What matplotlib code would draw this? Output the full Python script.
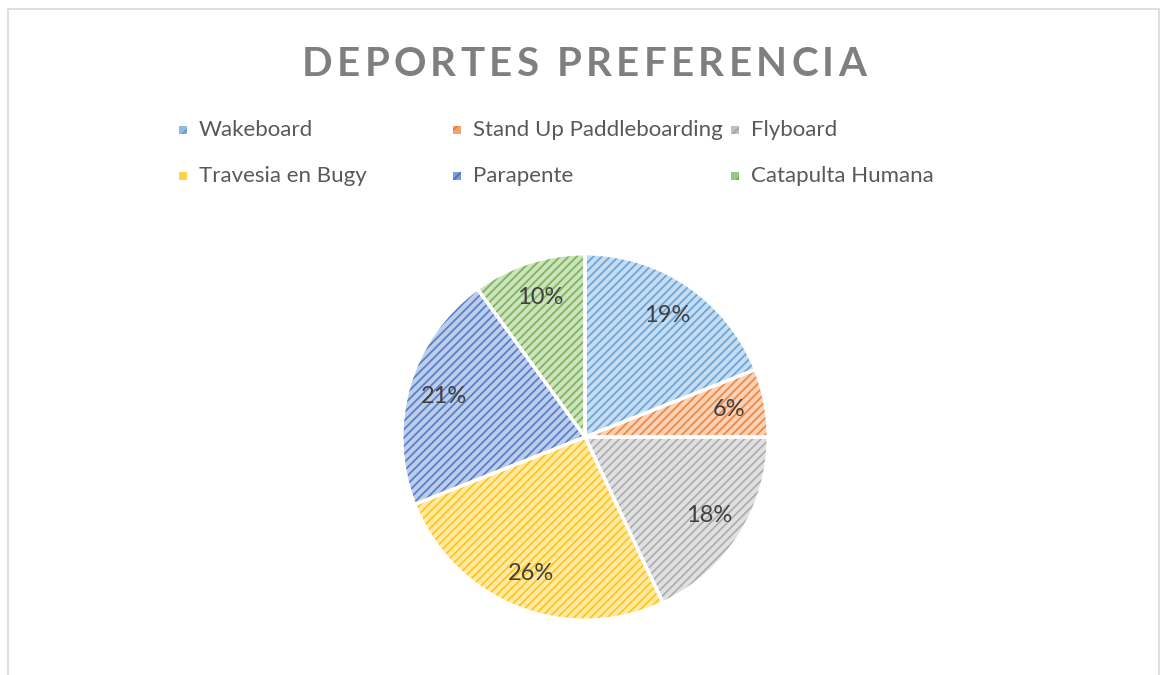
import matplotlib
matplotlib.use("Agg")
import matplotlib.pyplot as plt
import matplotlib.colors as mcolors
from matplotlib.patches import Rectangle

plt.rcParams["font.family"] = ["Lato", "DejaVu Sans"]
plt.rcParams["hatch.linewidth"] = 1.3

# Data
deportes = ["Wakeboard", "Stand Up Paddleboarding", "Flyboard",
            "Travesia en Bugy", "Parapente", "Catapulta Humana"]
porcentajes = [19, 6, 18, 26, 21, 10]
colores = ["#5B9BD5", "#ED7D31", "#A5A5A5", "#FFC000", "#4472C4", "#70AD47"]
titulo = "DEPORTES PREFERENCIA"


def aclarar(c, f=0.6):
    r, g, b = mcolors.to_rgb(c)
    return (r + (1 - r) * f, g + (1 - g) * f, b + (1 - b) * f)


W, H = 1162, 675
fig = plt.figure(figsize=(W / 100, H / 100), dpi=100)

# chart border
fig.patches.append(Rectangle((8 / W, -0.01), (1159 - 8) / W, (H - 9) / H + 0.01,
                             transform=fig.transFigure, fill=False,
                             edgecolor="#D9D9D9", linewidth=1.2))

# pie axes
cx, cy, r = 585, 437, 185
ax = fig.add_axes([(cx - r) / W, (H - cy - r) / H, 2 * r / W, 2 * r / H])

wedges, textos, autotextos = ax.pie(
    porcentajes, startangle=90, counterclock=False,
    colors=[aclarar(c, 0.65) for c in colores],
    autopct="%1.0f%%", pctdistance=0.8,
    textprops=dict(color="#404040", fontsize=17),
    wedgeprops=dict(linewidth=0, hatch="////"))
for w, c in zip(wedges, colores):
    w.set_edgecolor(aclarar(c, 0.1))

# white separators on top
bordes, _ = ax.pie(porcentajes, startangle=90, counterclock=False,
                   colors=["none"] * len(porcentajes),
                   wedgeprops=dict(linewidth=2.4, edgecolor="white"))
for t in autotextos:
    t.set_zorder(5)
ax.set_xlim(-1.01, 1.01)
ax.set_ylim(-1.01, 1.01)
ax.set_aspect("equal")
ax.axis("off")

# title with letter spacing
renderer = fig.canvas.get_renderer()
tracking = 4.3  # px between letters
tam_titulo = 29
partes = []
for ch in titulo:
    t = fig.text(0, 0, ch, fontsize=tam_titulo, fontweight="bold",
                 color="#7F7F7F")
    bb = t.get_window_extent(renderer)
    partes.append((t, bb.width))
ancho_total = sum(w for _, w in partes) + tracking * (len(partes) - 1)
x = 584 - ancho_total / 2
for t, w in partes:
    t.set_position((x / W, (H - 76) / H))
    x += w + tracking

# legend drawn as a grid like the original
col_x = [183, 457, 735]
fila_y = [130, 176]
for i, (nombre, c) in enumerate(zip(deportes, colores)):
    x0 = col_x[i % 3]
    y0 = fila_y[i // 3]
    fig.patches.append(Rectangle(((x0 - 4) / W, (H - y0 - 4) / H), 8 / W, 8 / H,
                                 transform=fig.transFigure,
                                 facecolor=aclarar(c, 0.3), edgecolor=c,
                                 hatch="//", linewidth=0))
    fig.text((x0 + 16) / W, (H - y0) / H, nombre, fontsize=16,
             color="#595959", va="center", ha="left")

fig.savefig("out.png", dpi=100)
